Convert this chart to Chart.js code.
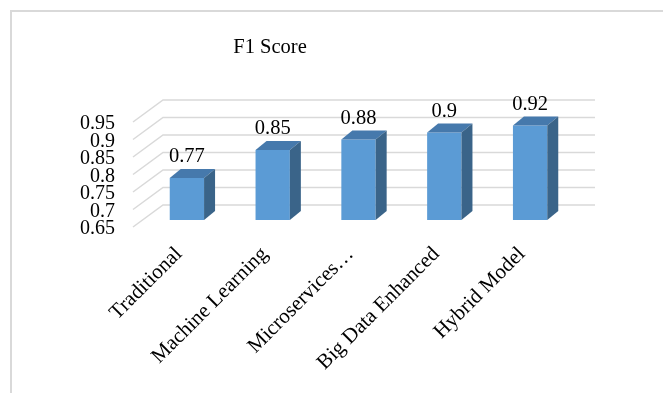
<!DOCTYPE html>
<html>
<head>
<meta charset="utf-8">
<script src="https://cdn.jsdelivr.net/npm/chart.js@4.4.0/dist/chart.umd.min.js"></script>
<style>
  html, body { margin: 0; padding: 0; background: #ffffff; }
  #wrap { width: 663px; height: 393px; }
</style>
</head>
<body>
<div id="wrap"><canvas id="f1Chart" width="663" height="393"></canvas></div>
<script>
const titleText = 'F1 Score';
const categories = ['Traditional', 'Machine Learning', 'Microservices\u2026', 'Big Data Enhanced', 'Hybrid Model'];
const f1Values = [0.77, 0.85, 0.88, 0.9, 0.92];
const yTicks = [0.65, 0.7, 0.75, 0.8, 0.85, 0.9, 0.95];

const FONT = '"Liberation Serif", "Times New Roman", serif';
const DEPTH_X = 11, DEPTH_Y = 9;     // bar side/top depth
const WALL_DX = 19, WALL_DY = 15;    // bar front -> back wall
const FLOOR_DX = -11, FLOOR_DY = 7;  // bar front -> front edge

// fake 3D: back wall grid, floor diagonals, bar top/side faces, labels
const threeD = {
    id: 'threeD',
    beforeDraw(chart) {
        const ctx = chart.ctx;
        ctx.save();
        ctx.fillStyle = '#ffffff';
        ctx.fillRect(0, 0, chart.width, chart.height);
        // chart frame (cropped on right and bottom)
        ctx.strokeStyle = '#d9d9d9';
        ctx.lineWidth = 2;
        ctx.beginPath();
        ctx.moveTo(11, chart.height);
        ctx.lineTo(11, 11);
        ctx.lineTo(chart.width, 11);
        ctx.stroke();
        // title
        ctx.fillStyle = '#000000';
        ctx.font = '20.5px ' + FONT;
        ctx.textAlign = 'center';
        ctx.textBaseline = 'middle';
        ctx.fillText(titleText, 270, 48);
        ctx.restore();
    },
    beforeDatasetsDraw(chart) {
        const ctx = chart.ctx;
        const area = chart.chartArea;
        const y = chart.scales.y;
        ctx.save();
        ctx.strokeStyle = '#d9d9d9';
        ctx.lineWidth = 1.5;
        yTicks.forEach(v => {
            const py = y.getPixelForValue(v);
            ctx.beginPath();
            ctx.moveTo(area.left + FLOOR_DX, py + FLOOR_DY);
            ctx.lineTo(area.left + WALL_DX, py - WALL_DY);
            ctx.lineTo(area.right + 22, py - WALL_DY);
            ctx.stroke();
        });
        // y tick labels at front edge
        ctx.fillStyle = '#000000';
        ctx.font = '20px ' + FONT;
        ctx.textAlign = 'right';
        ctx.textBaseline = 'middle';
        yTicks.forEach(v => {
            ctx.fillText(String(v), 115, y.getPixelForValue(v) + FLOOR_DY + 2);
        });
        ctx.restore();
    },
    afterDatasetsDraw(chart) {
        const ctx = chart.ctx;
        const area = chart.chartArea;
        const meta = chart.getDatasetMeta(0);
        ctx.save();
        meta.data.forEach((bar, i) => {
            const p = bar.getProps(['x', 'y', 'base', 'width'], true);
            const l = p.x - p.width / 2, r = p.x + p.width / 2;
            const base = Math.min(p.base, area.bottom);
            // top face
            ctx.fillStyle = '#4679ac';
            ctx.beginPath();
            ctx.moveTo(l, p.y);
            ctx.lineTo(r, p.y);
            ctx.lineTo(r + DEPTH_X, p.y - DEPTH_Y);
            ctx.lineTo(l + DEPTH_X, p.y - DEPTH_Y);
            ctx.closePath();
            ctx.fill();
            // side face
            ctx.fillStyle = '#3a6489';
            ctx.beginPath();
            ctx.moveTo(r, p.y);
            ctx.lineTo(r + DEPTH_X, p.y - DEPTH_Y);
            ctx.lineTo(r + DEPTH_X, base - DEPTH_Y);
            ctx.lineTo(r, base);
            ctx.closePath();
            ctx.fill();
            // value label
            ctx.fillStyle = '#000000';
            ctx.font = '20.5px ' + FONT;
            ctx.textAlign = 'center';
            ctx.textBaseline = 'alphabetic';
            ctx.fillText(String(f1Values[i]), p.x, p.y - DEPTH_Y - 7);
        });
        ctx.restore();
    }
};

const ctx = document.getElementById('f1Chart').getContext('2d');
new Chart(ctx, {
    type: 'bar',
    data: {
        labels: categories,
        datasets: [{
            label: titleText,
            data: f1Values,
            backgroundColor: '#5b9bd5',
            borderWidth: 0,
            barPercentage: 0.4,
            categoryPercentage: 1
        }]
    },
    options: {
        responsive: false,
        animation: false,
        layout: {
            padding: { left: 144, right: 90, top: 115, bottom: 0 }
        },
        plugins: {
            legend: { display: false },
            title: { display: false },
            tooltip: { enabled: false }
        },
        scales: {
            x: {
                grid: { display: false },
                border: { display: false },
                ticks: {
                    color: '#000000',
                    font: { size: 21, family: FONT },
                    minRotation: 45,
                    maxRotation: 45,
                    padding: 14,
                    labelOffset: -8,
                    autoSkip: false
                },
                afterFit(scale) { scale.height = 173; }
            },
            y: {
                display: false,
                min: 0.65,
                max: 0.95
            }
        }
    },
    plugins: [threeD]
});
</script>
</body>
</html>
